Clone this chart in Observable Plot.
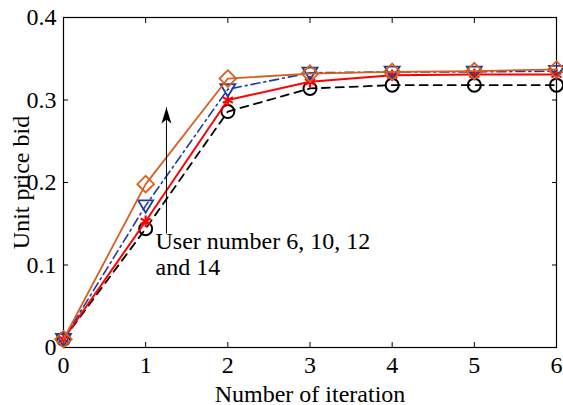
<!DOCTYPE html>
<html>
<head>
<meta charset="utf-8">
<script src="https://cdn.jsdelivr.net/npm/d3@7"></script>
<script src="https://cdn.jsdelivr.net/npm/@observablehq/plot@0.6"></script>
<style>
  html, body { margin: 0; padding: 0; background: #fff; }
</style>
</head>
<body>
<div id="chart"></div>
<script>
const iterations = [0, 1, 2, 3, 4, 5, 6];
const user6  = [0.010, 0.144, 0.286, 0.314, 0.318, 0.318, 0.318];   // black dashed, circles
const user10 = [0.010, 0.153, 0.300, 0.322, 0.330, 0.331, 0.331];   // red solid, stars
const user12 = [0.010, 0.172, 0.313, 0.333, 0.334, 0.334, 0.335];   // blue dash-dot, triangles
const user14 = [0.010, 0.198, 0.326, 0.332, 0.334, 0.335, 0.337];   // orange solid, diamonds

const xTicks = [0, 1, 2, 3, 4, 5, 6];
const xTickLabels = ["0", "1", "2", "3", "4", "5", "6"];
const yTicks = [0, 0.1, 0.2, 0.3, 0.4];
const yTickLabels = ["0", "0.1", "0.2", "0.3", "0.4"];

const annotationText = "User number 6, 10, 12\nand 14";
const annotation = [{xText: 1.12, yText: 0.142, xArrow: 1.253, yFrom: 0.138, yTo: 0.291}];

const toRows = (vals) => iterations.map((x, i) => ({x, y: vals[i]}));

const triangleDown = {
  draw(ctx, size) {
    const r = Math.sqrt(size / Math.PI);
    ctx.moveTo(-r, -r * 0.7);
    ctx.lineTo(r, -r * 0.7);
    ctx.lineTo(0, r * 0.95);
    ctx.closePath();
  }
};
const arrowHead = {
  draw(ctx) {
    ctx.moveTo(0, 0);
    ctx.lineTo(5, 16);
    ctx.lineTo(0, 12);
    ctx.lineTo(-5, 16);
    ctx.closePath();
  }
};

const series = [
  {vals: user6,  stroke: "#000000", dash: "8,6",     width: 1.8, symbol: "circle",   r: 6.5, ms: 2},
  {vals: user10, stroke: "#ff0000", dash: null,      width: 2,   symbol: "asterisk", r: 5.5, ms: 2.2},
  {vals: user12, stroke: "#1f3d9c", dash: "9,4,2,4", width: 1.6, symbol: triangleDown, r: 7.5, ms: 1.8},
  {vals: user14, stroke: "#d95f1f", dash: null,      width: 1.8, symbol: "diamond2", r: 7.5, ms: 1.8}
];

const marks = [];
for (const s of series) {
  const rows = toRows(s.vals);
  marks.push(Plot.line(rows, {x: "x", y: "y", stroke: s.stroke, strokeWidth: s.width, strokeDasharray: s.dash || undefined}));
  marks.push(Plot.dot(rows, {x: "x", y: "y", symbol: s.symbol, r: s.r, stroke: s.stroke, strokeWidth: s.ms, fill: "none"}));
}

const FS = 24;
const plot = Plot.plot({
  width: 563,
  height: 405,
  marginLeft: 63,
  marginRight: 7,
  marginTop: 17,
  marginBottom: 58,
  style: {fontFamily: "'Liberation Serif', 'Times New Roman', serif", fontSize: FS + "px", background: "#fff", color: "#000"},
  x: {domain: [0, 6]},
  y: {domain: [0, 0.4]},
  marks: [
    Plot.frame({stroke: "#000", strokeWidth: 1.2}),
    Plot.axisX({ticks: xTicks, tickSize: 0, tickPadding: 8, tickFormat: (d, i) => xTickLabels[i], label: "Number of iteration", labelAnchor: "center", labelArrow: "none", labelOffset: 54, fontSize: FS}),
    Plot.axisX({ticks: xTicks, anchor: "bottom", tickSize: -5, tickFormat: () => "", label: null}),
    Plot.axisX({ticks: xTicks, anchor: "top", tickSize: -5, tickFormat: () => "", label: null}),
    Plot.axisY({ticks: yTicks, tickSize: 0, tickPadding: 7, tickFormat: (d, i) => yTickLabels[i], label: "Unit price bid", labelAnchor: "center", labelArrow: "none", labelOffset: 52, fontSize: FS}),
    Plot.axisY({ticks: yTicks, anchor: "left", tickSize: -5, tickFormat: () => "", label: null}),
    Plot.axisY({ticks: yTicks, anchor: "right", tickSize: -5, tickFormat: () => "", label: null}),
    ...marks,
    Plot.link(annotation, {x1: "xArrow", x2: "xArrow", y1: "yFrom", y2: "yTo", stroke: "#000", strokeWidth: 1}),
    Plot.dot(annotation, {x: "xArrow", y: "yTo", symbol: arrowHead, fill: "#000", stroke: "none", r: 5}),
    Plot.text(annotation, {x: "xText", y: "yText", text: () => annotationText, textAnchor: "start", lineAnchor: "top", lineHeight: 1.1, fontSize: FS, fill: "#000"})
  ]
});
document.getElementById("chart").appendChild(plot);
</script>
</body>
</html>
